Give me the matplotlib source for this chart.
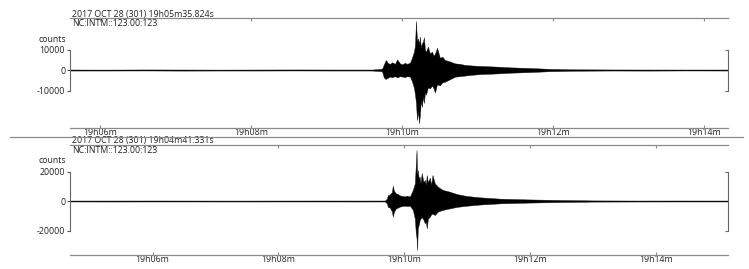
import numpy as np
import matplotlib.pyplot as plt
from matplotlib.lines import Line2D

plt.rcParams['font.family'] = ['Open Sans', 'DejaVu Sans']

##### trace 1 : seconds after trace start, envelope max / min in counts #####
title1 = '2017 OCT 28 (301) 19h05m35.824s'
chan1 = 'NC:INTM::123.00:123'
start1 = 5*60 + 35.824          # seconds after 19h00m
len1 = 523
t1 = [0, 30, 60, 90, 120, 150, 180, 210, 240, 248, 249.5, 251, 252.7, 254.3, 256, 258.3,
      260, 262.3, 264, 266.2, 268, 270.2, 271.8, 273.4, 274.2, 275.0, 275.8, 276.6, 277.4,
      278.1, 278.9, 279.7, 280.5, 281.3, 282.1, 282.9, 284.5, 286.1, 287.7, 289, 290.1,
      291.7, 294.0, 296, 298.0, 302.0, 306.0, 310, 313.9, 320, 325.8, 334, 341.7, 350,
      365.6, 380, 400, 430, 460, 490, 523]
hi1 = [250, 220, 280, 250, 220, 250, 280, 250, 250, 600, 2800, 4900, 3400, 3000, 3800, 3000,
       5200, 3200, 2800, 3500, 3000, 3600, 6000, 9000, 12000, 24000, 14000, 15500, 12500,
       16300, 11000, 13000, 13800, 16000, 10000, 8900, 11400, 8000, 9000, 7000, 8000,
       10900, 6000, 6500, 4900, 4200, 3250, 3000, 2500, 2200, 2000, 1800, 1600, 1300,
       1000, 600, 350, 280, 250, 250, 250]
lo1 = [-250, -250, -220, -280, -250, -250, -220, -250, -250, -600, -3700, -4400, -3700, -3200,
       -3500, -3000, -3600, -3000, -3200, -3400, -3000, -3200, -5500, -8800, -12000, -16000,
       -24400, -20000, -26000, -22000, -15000, -18000, -13000, -16100, -11000, -12000,
       -8500, -9000, -7500, -9000, -11000, -7000, -7500, -6000, -5700, -4500, -3250, -3000,
       -2700, -2300, -2000, -1800, -1600, -1300, -1000, -600, -350, -250, -280, -220, -250]

##### trace 2 #####
title2 = '2017 OCT 28 (301) 19h04m41.331s'
chan2 = 'NC:INTM::123.00:123'
start2 = 4*60 + 41.331
len2 = 627
t2 = [0, 40, 80, 120, 160, 200, 240, 280, 300, 301.9, 302.9, 304.8, 306.7, 307.6, 308.6,
      310.5, 312.4, 314.3, 316.7, 319.0, 321.4, 323.8, 326.7, 328.6, 329.5, 330.2, 330.8,
      331.4, 332.4, 333.2, 334.0, 335.2, 336.7, 338.1, 339.0, 340.0, 341.0, 342.9, 344.2,
      345.4, 347.6, 350.5, 355.2, 361.9, 368.6, 378.1, 390.5, 409.5, 435.2, 466.7, 500,
      540, 580, 627]
hi2 = [330, 330, 350, 330, 300, 330, 350, 330, 350, 1500, 4000, 4500, 6000, 10400, 7000,
       5200, 4800, 3800, 3400, 3200, 3600, 3000, 7500, 12000, 24400, 34600, 18000, 21000,
       15000, 16500, 12000, 19000, 13000, 14200, 11000, 17600, 12500, 15800, 11000, 17600,
       12000, 9700, 7500, 6300, 4700, 3400, 2500, 1600, 1100, 700, 400, 330, 350, 330]
lo2 = [-330, -350, -330, -330, -350, -330, -330, -350, -330, -1500, -4000, -4500, -7000,
       -10600, -7500, -5000, -4500, -3800, -3400, -3200, -3400, -3200, -6000, -12000,
       -21700, -25000, -33200, -18300, -16000, -13000, -12000, -11000, -12500, -15100,
       -14000, -18500, -12000, -10600, -9000, -8500, -9500, -7200, -6000, -5000, -4000,
       -3200, -2400, -1600, -1100, -700, -400, -350, -330, -330]

tick_minutes = [6, 8, 10, 12, 14]
fs = 6.3
txt = '#222222'
grey = '#8a8a8a'


def trace_panel(fig, rect, t, hi, lo, start, length, ylim, yticks, title, chan, counts_y):
    ax = fig.add_axes(rect)
    ax.fill_between(t, lo, hi, color='black', linewidth=0.3, edgecolor='#111111')
    ax.set_xlim(0, length)
    ax.set_ylim(*ylim)
    ###minute ticks
    xt = [m*60 - start for m in tick_minutes]
    ax.set_xticks(xt)
    ax.set_xticklabels(['19h%02dm' % m for m in tick_minutes], fontsize=fs, color=txt)
    ax.tick_params(axis='x', direction='in', length=2.5, top=True, pad=0, color=grey)
    ax.set_yticks(yticks)
    ax.set_yticklabels(['%d' % v for v in yticks], fontsize=fs, color=txt)
    ax.tick_params(axis='y', direction='out', length=2.5, pad=1, color='#555555')
    ax.spines['left'].set_bounds(yticks[-1], yticks[0])
    ax.spines['left'].set_color('#666666')
    ax.spines['left'].set_linewidth(0.8)
    ax.spines['right'].set_visible(False)
    for s in ['top', 'bottom']:
        ax.spines[s].set_color(grey)
        ax.spines[s].set_linewidth(0.9)
    ###scale bracket on the right
    ax2 = ax.twinx()
    ax2.set_ylim(*ylim)
    ax2.set_yticks([yticks[0], yticks[-1]])
    ax2.set_yticklabels([])
    ax2.tick_params(axis='y', direction='in', length=2.5, color='#666666')
    for s in ['top', 'bottom', 'left']:
        ax2.spines[s].set_visible(False)
    ax2.spines['right'].set_bounds(yticks[-1], yticks[0])
    ax2.spines['right'].set_color('#666666')
    ax2.spines['right'].set_linewidth(0.8)
    ax.text(0.003, 1.0 + 1.5/110, title, transform=ax.transAxes, fontsize=fs, color=txt,
            ha='left', va='baseline')
    ax.text(0.003, 0.99, chan, transform=ax.transAxes, fontsize=fs, color=txt,
            ha='left', va='top')
    ax.text(-0.006, counts_y, 'counts', transform=ax.transAxes, fontsize=fs, color=txt,
            ha='right', va='center')
    return ax


if __name__ == "__main__":
    fig = plt.figure(figsize=(7.49, 2.69), dpi=100)
    trace_panel(fig, [70/749, 1-128/269, 658/749, 110/269], t1, hi1, lo1, start1, len1,
                (-28300, 25400), [10000, 0, -10000], title1, chan1, 0.80)
    trace_panel(fig, [70/749, 1-255/269, 658/749, 110/269], t2, hi2, lo2, start2, len2,
                (-36600, 37970), [20000, 0, -20000], title2, chan2, 0.855)
    ###separator between the traces
    fig.add_artist(Line2D([10/749, 743/749], [1-137/269, 1-137/269], color=grey,
                          linewidth=0.9, transform=fig.transFigure))
    fig.savefig('out.png', dpi=100)
